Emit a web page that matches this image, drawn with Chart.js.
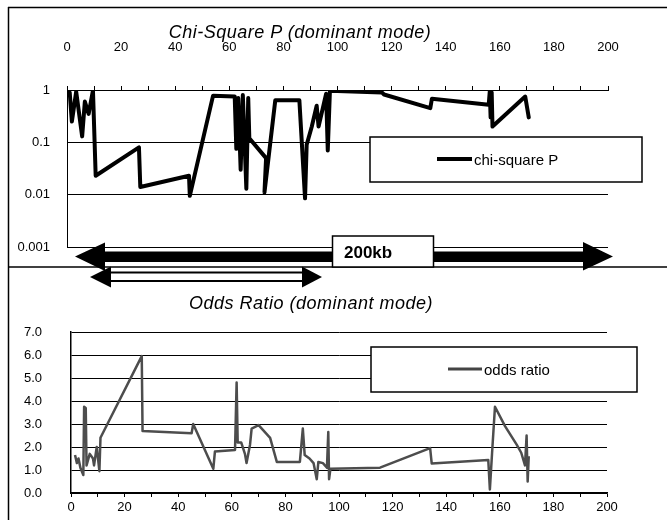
<!DOCTYPE html>
<html><head><meta charset="utf-8">
<script src="https://cdn.jsdelivr.net/npm/chart.js@4.4.1/dist/chart.umd.min.js"></script>
<style>
html,body{margin:0;padding:0;background:#fff;}
#wrap{position:relative;width:667px;height:520px;overflow:hidden;font-family:"Liberation Sans",Arial,sans-serif;background:#fff;}
#c1{position:absolute;left:0;top:0;}
#c2{position:absolute;left:0;top:267px;}
#ov{position:absolute;left:0;top:0;pointer-events:none;}
</style></head><body>
<div id="wrap">
<canvas id="c1" width="667" height="267"></canvas>
<canvas id="c2" width="667" height="253"></canvas>
<svg id="ov" width="667" height="520" xmlns="http://www.w3.org/2000/svg" font-family="Liberation Sans, Arial, sans-serif">
  <line x1="8" y1="7.5" x2="667" y2="7.5" stroke="#000" stroke-width="1.5"/>
  <line x1="8.5" y1="7" x2="8.5" y2="520" stroke="#000" stroke-width="1.5"/>
  <line x1="8" y1="267" x2="667" y2="267" stroke="#000" stroke-width="1.5"/>
  <text x="300" y="32" text-anchor="middle" dominant-baseline="central" font-style="italic" font-size="18" letter-spacing="0.5">Chi-Square P (dominant mode)</text>
  <text x="311" y="303" text-anchor="middle" dominant-baseline="central" font-style="italic" font-size="18" letter-spacing="0.5">Odds Ratio (dominant mode)</text>
  <rect x="370" y="137" width="272" height="45" fill="#fff" stroke="#000" stroke-width="1.5"/>
  <line x1="437" y1="159" x2="472" y2="159" stroke="#000" stroke-width="4"/>
  <text x="474" y="159" dominant-baseline="central" font-size="15">chi-square P</text>
  <rect x="371" y="347" width="266" height="45" fill="#fff" stroke="#000" stroke-width="1.5"/>
  <line x1="448" y1="369" x2="482" y2="369" stroke="#444" stroke-width="3"/>
  <text x="484" y="369" dominant-baseline="central" font-size="15">odds ratio</text>
  <polygon points="75,256.5 105,242.5 105,251.5 583,251.5 583,242 613,256.5 583,270.5 583,262 105,262 105,271" fill="#000"/>
  <rect x="332.5" y="236" width="101" height="31" fill="#fff" stroke="#000" stroke-width="1.5"/>
  <text x="344" y="252" dominant-baseline="central" font-size="17" font-weight="bold">200kb</text>
  <rect x="108" y="272.5" width="196" height="8.5" fill="#fff" stroke="#000" stroke-width="2"/>
  <polygon points="90,277 111,266.5 111,287.5" fill="#000"/>
  <polygon points="322,277 302,266.5 302,287.5" fill="#000"/>
</svg>
</div>
<script>
// ---- data: chi-square P (dominant mode) ----
const posP = [1.0,1.8,3.4,5.6,6.6,8.0,9.6,10.6,26.6,27.1,45.1,45.4,54.0,62.0,62.6,63.3,64.2,65.0,66.3,67.0,67.4,73.6,73.0,77.0,85.9,88.0,88.6,90.5,92.3,93.0,95.8,96.4,97.2,116.4,117.2,134.3,134.9,155.9,156.3,156.6,157.0,157.3,169.4,170.7];
const chiP = [0.9,0.25,0.93,0.13,0.6,0.35,0.98,0.023,0.08,0.014,0.023,0.0095,0.78,0.75,0.075,0.7,0.03,0.8,0.013,0.7,0.12,0.05,0.011,0.64,0.64,0.0085,0.09,0.2,0.5,0.2,0.85,0.07,0.97,0.9,0.82,0.45,0.68,0.52,0.95,0.3,0.9,0.2,0.75,0.3];
// ---- data: odds ratio (dominant mode) ----
const posOR = [1.5,2.2,2.8,3.5,4.6,4.9,5.5,5.8,7.0,8.2,8.6,9.6,10.6,11.0,26.4,26.7,45.0,45.6,53.1,53.7,61.2,61.8,62.2,63.5,64.9,65.5,66.8,67.4,70.0,74.3,76.8,85.4,86.5,87.2,89.0,90.5,91.7,92.3,94.0,95.5,96.0,96.3,96.8,115.3,134.0,134.6,155.7,156.3,157.2,158.2,162.0,166.3,168.0,169.4,170.0,170.4,170.8];
const oddsR = [1.65,1.3,1.5,1.1,0.78,3.75,3.7,1.2,1.7,1.5,1.2,2.0,0.95,2.4,5.95,2.7,2.6,3.0,1.05,1.8,1.87,4.8,2.2,2.2,1.7,1.3,2.1,2.8,2.95,2.4,1.35,1.35,2.8,1.65,1.5,1.3,0.6,1.35,1.3,1.1,2.65,0.6,1.05,1.1,1.95,1.28,1.43,0.15,1.9,3.75,2.9,2.1,1.75,1.2,2.5,0.5,1.6];
// ---- tick values / labels ----
const xTickVals = [0,10,20,30,40,50,60,70,80,90,100,110,120,130,140,150,160,170,180,190,200];
const pTickVals = [0.001,0.01,0.1,1];
const pTickLabels = ['0.001','0.01','0.1','1'];
const orTickVals = [0,1,2,3,4,5,6,7];
const orTickLabels = ['0.0','1.0','2.0','3.0','4.0','5.0','6.0','7.0'];

Chart.defaults.font.family = '"Liberation Sans", Arial, sans-serif';
Chart.defaults.color = '#000';

const xLabel = v => (v % 20 === 0 ? String(v) : '');
const fixY = w => s => { s.width = w; s.paddingTop = 0; s.paddingBottom = 0; };

new Chart(document.getElementById('c1'), {
  type: 'scatter',
  data: { datasets: [{
    label: 'chi-square P',
    data: posP.map((x, i) => ({ x: x, y: chiP[i] })),
    showLine: true, borderColor: '#000', borderWidth: 4, pointRadius: 0,
    borderJoinStyle: 'round', borderCapStyle: 'round', tension: 0
  }]},
  options: {
    responsive: false, animation: false, events: [],
    layout: { padding: { left: 0, right: 59, top: 0, bottom: 20 } },
    plugins: { legend: { display: false }, tooltip: { enabled: false } },
    scales: {
      x: {
        type: 'linear', position: 'top', min: 0, max: 200,
        afterBuildTicks: s => { s.ticks = xTickVals.map(v => ({ value: v })); },
        afterFit: s => { s.height = 90; },
        ticks: { autoSkip: false, maxRotation: 0, padding: 31, font: { size: 13 }, color: '#000', callback: xLabel },
        grid: { drawOnChartArea: false, drawTicks: true, tickLength: 4, color: '#000' },
        border: { display: true, color: '#000', width: 1 }
      },
      y: {
        type: 'logarithmic', min: 0.001, max: 1,
        afterBuildTicks: s => { s.ticks = pTickVals.map(v => ({ value: v, major: true })); },
        afterFit: fixY(67),
        ticks: { padding: 17, font: { size: 13 }, color: '#000',
          callback: v => { const i = pTickVals.findIndex(t => Math.abs(t - v) < 1e-9); return i >= 0 ? pTickLabels[i] : ''; } },
        grid: { color: '#000', lineWidth: 1, drawTicks: false },
        border: { display: true, color: '#000', width: 1 }
      }
    }
  }
});

new Chart(document.getElementById('c2'), {
  type: 'scatter',
  data: { datasets: [{
    label: 'odds ratio',
    data: posOR.map((x, i) => ({ x: x, y: oddsR[i] })),
    showLine: true, borderColor: '#4d4d4d', borderWidth: 2.5, pointRadius: 0,
    borderJoinStyle: 'round', tension: 0
  }]},
  options: {
    responsive: false, animation: false, events: [],
    layout: { padding: { left: 0, right: 60, top: 65, bottom: 0 } },
    plugins: { legend: { display: false }, tooltip: { enabled: false } },
    scales: {
      x: {
        type: 'linear', position: 'bottom', min: 0, max: 200,
        afterBuildTicks: s => { s.ticks = xTickVals.map(v => ({ value: v })); },
        afterFit: s => { s.height = 27; },
        ticks: { autoSkip: false, maxRotation: 0, padding: 3, font: { size: 13 }, color: '#000', callback: xLabel },
        grid: { drawOnChartArea: false, drawTicks: true, tickLength: 4, color: '#000' },
        border: { display: true, color: '#000', width: 1.5 }
      },
      y: {
        type: 'linear', min: 0, max: 7,
        afterBuildTicks: s => { s.ticks = orTickVals.map(v => ({ value: v })); },
        afterFit: fixY(71),
        ticks: { padding: 29, font: { size: 13 }, color: '#000',
          callback: v => { const i = orTickVals.indexOf(v); return i >= 0 ? orTickLabels[i] : ''; } },
        grid: { color: '#000', lineWidth: 1, drawTicks: false },
        border: { display: true, color: '#000', width: 1.5 }
      }
    }
  }
});
</script>
</body></html>
